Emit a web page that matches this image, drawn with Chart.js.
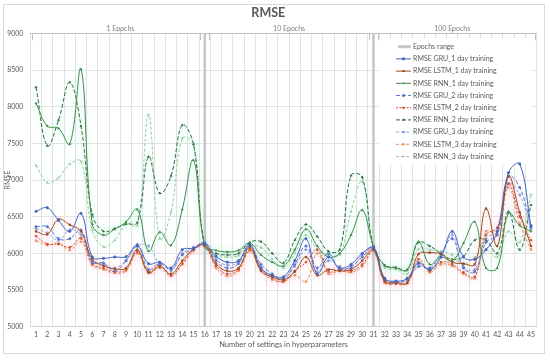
<!DOCTYPE html>
<html>
<head>
<meta charset="utf-8">
<script src="https://cdn.jsdelivr.net/npm/chart.js@4.4.1/dist/chart.umd.min.js"></script>
<style>
  html, body { margin: 0; padding: 0; background: #fff; }
  #wrap { position: relative; width: 550px; height: 361px; }
</style>
</head>
<body>
<div id="wrap"><canvas id="rmseChart"></canvas></div>
<script>
// Categories: number of settings in hyperparameters
const settings = ['1','2','3','4','5','6','7','8','9','10','11','12','13','14','15',
  '16','17','18','19','20','21','22','23','24','25','26','27','28','29','30',
  '31','32','33','34','35','36','37','38','39','40','41','42','43','44','45'];

// Epoch groups (top axis)
const epochLabels = ['1 Epochs', '10 Epochs', '100 Epochs'];
const epochFrom = [1, 16, 31];
const epochTo = [16, 31, 45];
const epochRangeAt = [16, 31];
const epochRangeValue = 9000;

// y axis
const yMin = 5000, yMax = 9000, yStep = 500;

// Series values
const gru1 = [6573,6623,6450,6300,6546,5950,5932,5950,5955,6100, 5860,5880,5800,6050,6070,6130,5960,5880,5900,6120, 5800,5700,5680,5900,6200,5720,5950,5800,5850,6000, 6080,5660,5620,5660,5870,5780,5950,6300,5950,5920, 6050,6300,7100,7220,6360];
const lstm1 = [6300,6260,6465,6390,6300,5920,5830,5790,5800,6050, 5740,5820,5720,5900,6060,6120,5860,5760,5800,6080, 5760,5680,5640,5750,5950,5700,5780,5760,5780,5900, 6060,5620,5600,5600,5990,6010,5990,5880,5860,5850, 6610,6100,7050,6560,6100];
const rnn1 = [8046,7737,7705,7491,8510,6400,6250,6330,6430,6600, 6030,6290,6110,6600,7270,6100,6040,6020,6040,6140, 5980,5880,5830,6050,6330,6100,5950,6000,6250,6590, 6100,5830,5800,5770,6160,5850,5950,5900,6140,6430, 5800,5800,6550,6380,6300];
const gru2 = [6364,6364,6200,6200,6318,5880,5870,5760,5900,6120, 5780,5860,5780,5980,6060,6150,5900,5800,5860,6100, 5850,5720,5650,5850,6100,5800,6000,5780,5820,5950, 6090,5640,5600,5640,5820,5800,6000,6200,5800,5750, 6150,6250,7050,6900,6380];
const lstm2 = [6236,6127,6127,6082,6204,5860,5800,5750,5780,6020, 5750,5840,5700,5860,6050,6100,5830,5720,5780,6050, 5800,5660,5620,5760,5880,6050,5750,5780,5760,5850, 6040,5610,5590,5600,5920,5760,5880,5850,5740,5680, 6250,6350,6950,6500,6180];
const rnn2 = [8265,7468,7818,8333,7737,6530,6300,6340,6400,6420, 7318,6820,7055,7750,7487,6100,6000,5980,6000,6150, 6160,6000,5870,6180,6395,6230,6030,6050,7060,7040, 6080,5840,5810,5780,6150,6100,6000,5920,5960,6180, 6180,6000,6570,6050,6660];
const gru3 = [6340,6280,6180,6320,6250,5900,5850,5800,5900,6100, 6100,5850,5760,6000,6080,6140,5920,5840,5880,6110, 5780,5700,5660,5820,6050,5750,5900,5820,5800,5980, 6070,5650,5620,5650,5850,5780,5980,6250,5820,5780, 6200,6300,6950,6800,6330];
const lstm3 = [6173,6113,6136,6046,6159,5840,5780,5730,5760,6000, 5730,5800,5690,5850,6030,6110,5800,5690,5760,6030, 5760,5640,5610,5700,5614,6000,5720,5760,5740,5820, 6030,5600,5580,5590,5880,5740,5850,5830,5720,5660, 6300,6280,6900,6400,6050];
const rnn3 = [7200,6964,7030,7218,7255,6320,6090,6180,6400,6380, 7890,6200,6560,7570,7490,6100,5990,5950,5970,6100, 6080,5920,5800,6000,6250,6050,5980,5980,6570,6980, 6060,5800,5780,5720,6060,6050,6030,5980,5850,5950, 6050,5950,6300,6150,6800];

const FONT = 'Lato, "Open Sans", sans-serif';
const TXT = '#595959';
const GRID = '#E3E3E3';

function line(label, data, color, dash, style, glow) {
  return {
    type: 'line', label, data,
    borderColor: color, backgroundColor: color,
    borderWidth: 1, borderDash: dash,
    pointRadius: 1.2, pointStyle: style, pointBorderWidth: 0.6,
    tension: 0.4, fill: false, order: 1, glow
  };
}

const datasets = [
  {
    type: 'bar', label: 'Epochs range',
    data: settings.map(s => epochRangeAt.includes(+s) ? epochRangeValue : null),
    backgroundColor: '#C8C8C8', barThickness: 2, order: 99
  },
  line('RMSE GRU_1 day training', gru1, '#4064C2', [], 'circle'),
  line('RMSE LSTM_1 day training', lstm1, '#9A4A1C', [], 'rect', 'rgba(255,170,200,0.55)'),
  line('RMSE RNN_1 day training', rnn1, '#3E8C43', [], 'triangle', 'rgba(150,240,225,0.55)'),
  line('RMSE GRU_2 day training', gru2, '#5877D0', [4, 2], 'circle'),
  line('RMSE LSTM_2 day training', lstm2, '#D24A22', [2, 1.5], 'rect', 'rgba(255,170,200,0.55)'),
  line('RMSE RNN_2 day training', rnn2, '#2F6A36', [4, 2], 'triangle', 'rgba(150,240,225,0.55)'),
  line('RMSE GRU_3 day training', gru3, '#8CA4E0', [3, 2], 'circle'),
  line('RMSE LSTM_3 day training', lstm3, '#E58E55', [3, 2], 'rect', 'rgba(255,170,200,0.55)'),
  line('RMSE RNN_3 day training', rnn3, '#9CC99A', [3, 2], 'triangle', 'rgba(150,240,225,0.55)')
];

// soft glow round some series (like the Excel glow effect)
const glowPlugin = {
  id: 'glow',
  beforeDatasetDraw(chart, args) {
    const ds = chart.data.datasets[args.index];
    chart.ctx.save();
    if (ds.glow) {
      chart.ctx.shadowColor = ds.glow;
      chart.ctx.shadowBlur = 7;
    }
  },
  afterDatasetDraw(chart) {
    chart.ctx.restore();
  }
};

// outer frame, epoch brackets and legend inside the plot
const decoPlugin = {
  id: 'deco',
  beforeDraw(chart) {
    const ctx = chart.ctx;
    ctx.save();
    ctx.strokeStyle = '#D9D9D9';
    ctx.lineWidth = 1;
    ctx.strokeRect(3.5, 4.5, 541, 349);
    ctx.restore();
  },
  beforeDatasetsDraw(chart) {
    const ctx = chart.ctx;
    const x2 = chart.scales.x2;
    const top = chart.chartArea.top;
    ctx.save();
    ctx.strokeStyle = '#BFBFBF';
    ctx.lineWidth = 1;
    epochFrom.forEach((f, i) => {
      const a = Math.round(x2.getPixelForValue(i === 0 ? 0.6 : f + 0.4)) + 0.5;
      const b = Math.round(x2.getPixelForValue(i === epochFrom.length - 1 ? 45.4 : epochTo[i] - 0.4)) + 0.5;
      ctx.beginPath();
      ctx.moveTo(a, top + 7); ctx.lineTo(a, top);
      ctx.moveTo(b, top + 7); ctx.lineTo(b, top);
      ctx.stroke();
    });

    // legend
    const lx = 379, ly = 39;
    ctx.fillStyle = '#fff';
    ctx.fillRect(lx, ly, 152, 125);
    ctx.font = '7px ' + FONT;
    ctx.textBaseline = 'middle';
    chart.data.datasets.forEach((ds, i) => {
      const y = 46.7 + i * 12.2;
      if (ds.type === 'bar') {
        ctx.fillStyle = ds.backgroundColor;
        ctx.fillRect(398, y - 1.5, 13, 3);
      } else {
        ctx.strokeStyle = ds.borderColor;
        ctx.lineWidth = 1;
        ctx.setLineDash(ds.borderDash);
        ctx.beginPath();
        ctx.moveTo(396, y); ctx.lineTo(411, y);
        ctx.stroke();
        ctx.setLineDash([]);
        ctx.fillStyle = ds.borderColor;
        Chart.helpers.drawPoint(ctx, { pointStyle: ds.pointStyle, radius: 1.3, rotation: 0, borderWidth: 0 }, 403.5, y);
        ctx.fill();
      }
      ctx.fillStyle = TXT;
      ctx.fillText(ds.label, 413, y);
    });
    ctx.restore();
  }
};

new Chart(document.getElementById('rmseChart'), {
  type: 'line',
  data: { labels: settings, datasets },
  plugins: [glowPlugin, decoPlugin],
  options: {
    responsive: true,
    maintainAspectRatio: false,
    animation: false,
    layout: { padding: { left: 0, right: 13.4, top: 0, bottom: 0 } },
    plugins: {
      legend: { display: false },
      tooltip: { enabled: false },
      title: {
        display: true, text: 'RMSE', color: TXT,
        font: { family: FONT, size: 12.5, weight: 'bold', lineHeight: 1.2 },
        padding: { top: 5.6, bottom: 0 }
      }
    },
    scales: {
      x: {
        type: 'category', offset: true,
        grid: { offset: true, color: GRID, drawTicks: false },
        border: { color: '#D0D0D0' },
        ticks: { color: TXT, font: { family: FONT, size: 7 }, padding: 4, autoSkip: false, maxRotation: 0 },
        title: {
          display: true, text: 'Number of settings in hyperparameters', color: TXT,
          font: { family: FONT, size: 7.5 }, padding: { top: 0, bottom: 12 }
        },
        afterFit: s => { s.height = 34.3; }
      },
      x2: {
        type: 'linear', position: 'top', min: 0.5, max: 45.5,
        afterBuildTicks: s => {
          s.ticks = epochFrom.map((f, i) => ({ value: (f + epochTo[i]) / 2 }));
        },
        ticks: {
          color: '#7F7F7F', font: { family: FONT, size: 7 }, padding: -4,
          callback: (v, i) => epochLabels[i]
        },
        grid: { drawOnChartArea: false, drawTicks: true, tickLength: 4, color: '#BFBFBF' },
        border: { display: true, color: '#BFBFBF' },
        afterFit: s => { s.height = 33.4 - 20.6; }
      },
      y: {
        min: yMin, max: yMax,
        ticks: { stepSize: yStep, color: TXT, font: { family: FONT, size: 7 }, padding: 7, callback: v => String(v) },
        grid: { color: GRID, drawTicks: false },
        border: { display: false },
        title: {
          display: true, text: 'RMSE', color: TXT,
          font: { family: FONT, size: 7 }, padding: { top: 4, bottom: 0 }
        },
        afterFit: s => { s.width = 30.4; }
      }
    }
  }
});
</script>
</body>
</html>
